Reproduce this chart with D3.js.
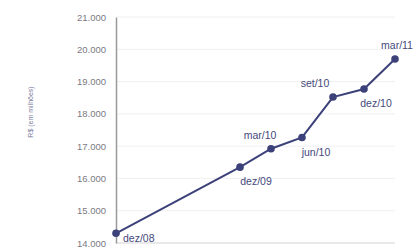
<!DOCTYPE html>
<html><head><meta charset="utf-8">
<script src="https://cdn.jsdelivr.net/npm/d3@7"></script>
<style>body{margin:0;background:#fff}svg{display:block}</style>
</head><body>
<script>
const quarters = ["dez/08","mar/09","jun/09","set/09","dez/09","mar/10","jun/10","set/10","dez/10","mar/11"];
const pointLabels = ["dez/08","dez/09","mar/10","jun/10","set/10","dez/10","mar/11"];
const values = [14.3, 16.35, 16.92, 17.27, 18.52, 18.77, 19.7];
const yTicks = [14,15,16,17,18,19,20,21];
const yTickLabels = ["14.000","15.000","16.000","17.000","18.000","19.000","20.000","21.000"];
const axisTitle = "R$ (em milhões)";

const W=417,H=249;
const svg=d3.select("body").append("svg").attr("width",W).attr("height",H);
const x=d3.scalePoint().domain(quarters).range([116,395]);
const y=d3.scaleLinear().domain([14,21]).range([243,17]);

// label placement (styling, kept out of the data)
const place = {
  "dez/08":{dx:7,dy:9,anchor:"start"},
  "dez/09":{dx:16,dy:18,anchor:"middle"},
  "mar/10":{dx:-11,dy:-10,anchor:"middle"},
  "jun/10":{dx:14,dy:19,anchor:"middle"},
  "set/10":{dx:-18,dy:-10,anchor:"middle"},
  "dez/10":{dx:12,dy:18,anchor:"middle"},
  "mar/11":{dx:2,dy:-10,anchor:"middle"}
};

svg.append("g").selectAll("line").data(yTicks.slice(1)).join("line")
  .attr("x1",117).attr("x2",395).attr("y1",d=>y(d)).attr("y2",d=>y(d))
  .attr("stroke","#f0f0f0").attr("stroke-width",1);
svg.append("line").attr("x1",116).attr("x2",395).attr("y1",y(14)).attr("y2",y(14))
  .attr("stroke","#e2e2e2").attr("stroke-width",1.5);

const ax=svg.append("g").attr("transform","translate(116,0)")
  .call(d3.axisLeft(y).tickValues(yTicks).tickFormat((d,i)=>yTickLabels[i]).tickSize(0).tickPadding(10));
ax.select(".domain").attr("stroke","#9a9a9a").attr("stroke-width",1.5);
ax.selectAll("text").attr("fill","#7a7a82").style("font-family","Arial, Liberation Sans, sans-serif").style("font-size","9.5px");

svg.append("text").attr("transform","translate(33,112) rotate(-90)").attr("text-anchor","middle")
  .attr("fill","#7c7ca0").style("font-family","Arial, Liberation Sans, sans-serif").style("font-size","7px").text(axisTitle);

const pts=pointLabels.map((q,i)=>({q,v:values[i]}));
svg.append("path").datum(pts).attr("fill","none").attr("stroke","#3c4279").attr("stroke-width",2)
  .attr("d",d3.line().x(d=>x(d.q)).y(d=>y(d.v)));
svg.append("g").selectAll("circle").data(pts).join("circle")
  .attr("cx",d=>x(d.q)).attr("cy",d=>y(d.v)).attr("r",3.8).attr("fill","#3c4279");
svg.append("g").selectAll("text").data(pts).join("text")
  .attr("x",d=>x(d.q)+place[d.q].dx)
  .attr("y",d=>y(d.v)+place[d.q].dy)
  .attr("text-anchor",d=>place[d.q].anchor)
  .attr("fill","#45497a").style("font-family","Arial, Liberation Sans, sans-serif").style("font-size","10.5px")
  .text(d=>d.q);
</script>
</body></html>
